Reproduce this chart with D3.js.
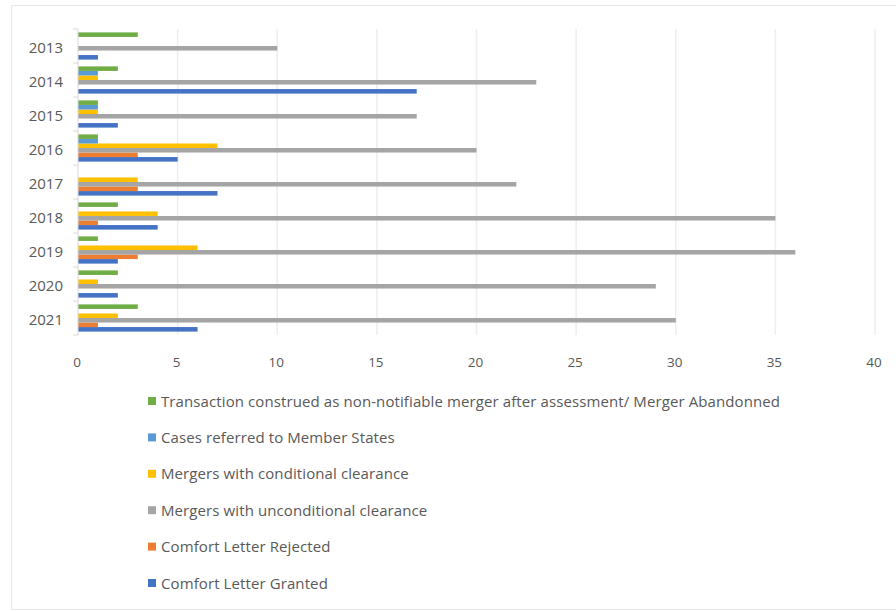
<!DOCTYPE html>
<html>
<head>
<meta charset="utf-8">
<script src="https://cdn.jsdelivr.net/npm/d3@7"></script>
<style>
  body { margin: 0; background: #fff; }
  text { font-family: "Open Sans", Lato, sans-serif; fill: #595959; }
</style>
</head>
<body>
<svg></svg>
<script>
// data
var years = ["2013", "2014", "2015", "2016", "2017", "2018", "2019", "2020", "2021"];
var seriesNames = [
  "Comfort Letter Granted",
  "Comfort Letter Rejected",
  "Mergers with unconditional clearance",
  "Mergers with conditional clearance",
  "Cases referred to Member States",
  "Transaction construed as non-notifiable merger after assessment/ Merger Abandonned"
];
var granted       = [1, 17, 2, 5, 7, 4, 2, 2, 6];
var rejected      = [0, 0, 0, 3, 3, 1, 3, 0, 1];
var unconditional = [10, 23, 17, 20, 22, 35, 36, 29, 30];
var conditional   = [0, 1, 1, 7, 3, 4, 6, 1, 2];
var referred      = [0, 1, 1, 1, 0, 0, 0, 0, 0];
var abandoned     = [3, 2, 1, 1, 0, 2, 1, 2, 3];
var xTicks = [0, 5, 10, 15, 20, 25, 30, 35, 40];
var colors = ["#4472C4", "#ED7D31", "#A5A5A5", "#FFC000", "#5B9BD5", "#70AD47"];

var allSeries = [granted, rejected, unconditional, conditional, referred, abandoned];

var svgWidth = 896, svgHeight = 611;
var svg = d3.select("svg").attr("width", svgWidth).attr("height", svgHeight);

// outer frame
svg.append("rect")
   .attr("x", 11.5).attr("y", 5.5)
   .attr("width", 900).attr("height", 604)
   .attr("fill", "none").attr("stroke", "#e8e8e8");

var plot = {left: 78, right: 875, top: 29, bottom: 335};

var x = d3.scaleLinear().domain([0, 40]).range([plot.left, plot.right]);
var y = d3.scaleBand().domain(years).range([plot.top, plot.bottom]).paddingInner(0.2).paddingOuter(0.1);
// inside each year: first series at the bottom
var inner = d3.scaleBand().domain(d3.range(6).reverse()).range([0, y.bandwidth()]);

// gridlines
svg.append("g").selectAll("line")
   .data(xTicks.slice(1))
   .enter().append("line")
   .attr("x1", function(d){ return x(d); })
   .attr("x2", function(d){ return x(d); })
   .attr("y1", plot.top).attr("y2", plot.bottom)
   .attr("stroke", "#eeeeee").attr("stroke-width", 1.5);

// bars
allSeries.forEach(function(vals, s){
  svg.append("g").selectAll("rect")
     .data(vals)
     .enter().append("rect")
     .attr("x", x(0))
     .attr("y", function(d, i){ return y(years[i]) + inner(s); })
     .attr("width", function(d){ return x(d) - x(0); })
     .attr("height", inner.bandwidth())
     .attr("fill", colors[s]);
});

// left axis line with ticks at category boundaries
var step = (plot.bottom - plot.top) / years.length;
svg.append("line")
   .attr("x1", plot.left).attr("x2", plot.left)
   .attr("y1", plot.top).attr("y2", plot.bottom)
   .attr("stroke", "#d9d9d9");
svg.append("g").selectAll("line")
   .data(d3.range(years.length + 1))
   .enter().append("line")
   .attr("x1", plot.left - 5).attr("x2", plot.left)
   .attr("y1", function(d){ return plot.top + d * step; })
   .attr("y2", function(d){ return plot.top + d * step; })
   .attr("stroke", "#d9d9d9");

// year labels
svg.append("g").selectAll("text")
   .data(years)
   .enter().append("text")
   .attr("x", 63)
   .attr("y", function(d){ return y(d) + y.bandwidth() / 2 + 7; })
   .attr("text-anchor", "end")
   .attr("font-size", 15)
   .text(function(d){ return d; });

// x labels
svg.append("g").selectAll("text")
   .data(xTicks)
   .enter().append("text")
   .attr("x", function(d){ return x(d) - 1; })
   .attr("y", 367)
   .attr("text-anchor", "middle")
   .attr("font-size", 13.5)
   .text(function(d){ return d; });

// legend (reverse order, green first)
var legendOrder = d3.range(6).reverse();
var legend = svg.append("g").selectAll("g")
   .data(legendOrder)
   .enter().append("g")
   .attr("transform", function(d, i){ return "translate(148," + (401 + i * 36.4) + ")"; });
legend.append("rect")
   .attr("x", 0).attr("y", -4).attr("width", 8).attr("height", 8)
   .attr("fill", function(d){ return colors[d]; });
legend.append("text")
   .attr("x", 13).attr("y", 5.5)
   .attr("font-size", 15)
   .attr("letter-spacing", 0.1)
   .text(function(d){ return seriesNames[d]; });
</script>
</body>
</html>
